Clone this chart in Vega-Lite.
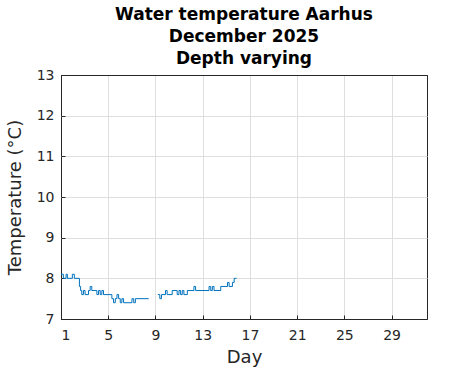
{
  "$schema": "https://vega.github.io/schema/vega-lite/v6.json",
  "autosize": {"type": "none"},
  "width": 366,
  "height": 244,
  "padding": {"left": 61, "top": 75, "right": 44, "bottom": 52},
  "background": "white",
  "title": {
    "text": ["Water temperature Aarhus", "December 2025", "Depth varying"],
    "font": "DejaVu Sans",
    "fontSize": 17,
    "fontWeight": "bold",
    "color": "black",
    "anchor": "middle",
    "lineHeight": 22,
    "offset": 0
  },
  "config": {
    "view": {"stroke": "#262626", "strokeWidth": 1},
    "axis": {
      "labelFont": "DejaVu Sans",
      "titleFont": "DejaVu Sans",
      "labelColor": "#262626",
      "titleColor": "#262626",
      "titleFontWeight": "normal",
      "gridWidth": 1,
      "domain": false,
      "ticks": true,
      "tickSize": -4,
      "tickColor": "#262626"
    }
  },
  "data": {
    "values": [
      {"day": 1.0, "temp": 8.1, "seg": 1},
      {"day": 1.2, "temp": 8.0, "seg": 1},
      {"day": 1.43, "temp": 8.1, "seg": 1},
      {"day": 1.54, "temp": 8.0, "seg": 1},
      {"day": 1.96, "temp": 8.1, "seg": 1},
      {"day": 2.13, "temp": 8.0, "seg": 1},
      {"day": 2.56, "temp": 7.8, "seg": 1},
      {"day": 2.66, "temp": 7.7, "seg": 1},
      {"day": 2.76, "temp": 7.6, "seg": 1},
      {"day": 2.9, "temp": 7.7, "seg": 1},
      {"day": 3.04, "temp": 7.6, "seg": 1},
      {"day": 3.33, "temp": 7.7, "seg": 1},
      {"day": 3.47, "temp": 7.8, "seg": 1},
      {"day": 3.61, "temp": 7.7, "seg": 1},
      {"day": 4.04, "temp": 7.6, "seg": 1},
      {"day": 4.18, "temp": 7.7, "seg": 1},
      {"day": 4.32, "temp": 7.6, "seg": 1},
      {"day": 4.46, "temp": 7.7, "seg": 1},
      {"day": 4.6, "temp": 7.6, "seg": 1},
      {"day": 5.31, "temp": 7.5, "seg": 1},
      {"day": 5.45, "temp": 7.4, "seg": 1},
      {"day": 5.6, "temp": 7.5, "seg": 1},
      {"day": 5.74, "temp": 7.6, "seg": 1},
      {"day": 5.88, "temp": 7.5, "seg": 1},
      {"day": 6.02, "temp": 7.4, "seg": 1},
      {"day": 6.16, "temp": 7.5, "seg": 1},
      {"day": 6.3, "temp": 7.4, "seg": 1},
      {"day": 7.01, "temp": 7.5, "seg": 1},
      {"day": 7.16, "temp": 7.4, "seg": 1},
      {"day": 7.3, "temp": 7.5, "seg": 1},
      {"day": 8.43, "temp": 7.5, "seg": 1},
      {"day": 9.2, "temp": 7.6, "seg": 2},
      {"day": 9.37, "temp": 7.5, "seg": 2},
      {"day": 9.51, "temp": 7.6, "seg": 2},
      {"day": 9.85, "temp": 7.7, "seg": 2},
      {"day": 9.99, "temp": 7.6, "seg": 2},
      {"day": 10.42, "temp": 7.7, "seg": 2},
      {"day": 10.84, "temp": 7.6, "seg": 2},
      {"day": 10.99, "temp": 7.7, "seg": 2},
      {"day": 11.13, "temp": 7.6, "seg": 2},
      {"day": 11.27, "temp": 7.7, "seg": 2},
      {"day": 11.41, "temp": 7.6, "seg": 2},
      {"day": 11.7, "temp": 7.7, "seg": 2},
      {"day": 12.26, "temp": 7.8, "seg": 2},
      {"day": 12.4, "temp": 7.7, "seg": 2},
      {"day": 13.54, "temp": 7.8, "seg": 2},
      {"day": 13.68, "temp": 7.7, "seg": 2},
      {"day": 13.82, "temp": 7.8, "seg": 2},
      {"day": 13.96, "temp": 7.7, "seg": 2},
      {"day": 14.53, "temp": 7.8, "seg": 2},
      {"day": 15.1, "temp": 7.9, "seg": 2},
      {"day": 15.24, "temp": 7.8, "seg": 2},
      {"day": 15.52, "temp": 7.9, "seg": 2},
      {"day": 15.67, "temp": 8.0, "seg": 2},
      {"day": 15.87, "temp": 8.0, "seg": 2}
    ]
  },
  "mark": {"type": "line", "interpolate": "step-after", "color": "#0072BD", "strokeWidth": 1},
  "encoding": {
    "x": {
      "field": "day",
      "type": "quantitative",
      "scale": {"domain": [1, 32], "nice": false, "zero": false},
      "axis": {
        "title": "Day",
        "values": [1, 5, 9, 13, 17, 21, 25, 29],
        "labelFontSize": 14,
        "titleFontSize": 18,
        "labelPadding": 13,
        "titlePadding": 6,
        "labelOverlap": false,
        "gridColor": {"condition": {"test": "datum.value == 1", "value": "#262626"}, "value": "#dfdfdf"}
      }
    },
    "y": {
      "field": "temp",
      "type": "quantitative",
      "scale": {"domain": [7, 13], "nice": false, "zero": false},
      "axis": {
        "title": "Temperature (°C)",
        "values": [7, 8, 9, 10, 11, 12, 13],
        "labelFontSize": 14,
        "titleFontSize": 18,
        "labelPadding": 11,
        "titlePadding": 12,
        "gridColor": {"condition": {"test": "datum.value == 7 || datum.value == 13", "value": "#262626"}, "value": "#dfdfdf"}
      }
    },
    "detail": {"field": "seg", "type": "nominal"}
  }
}
